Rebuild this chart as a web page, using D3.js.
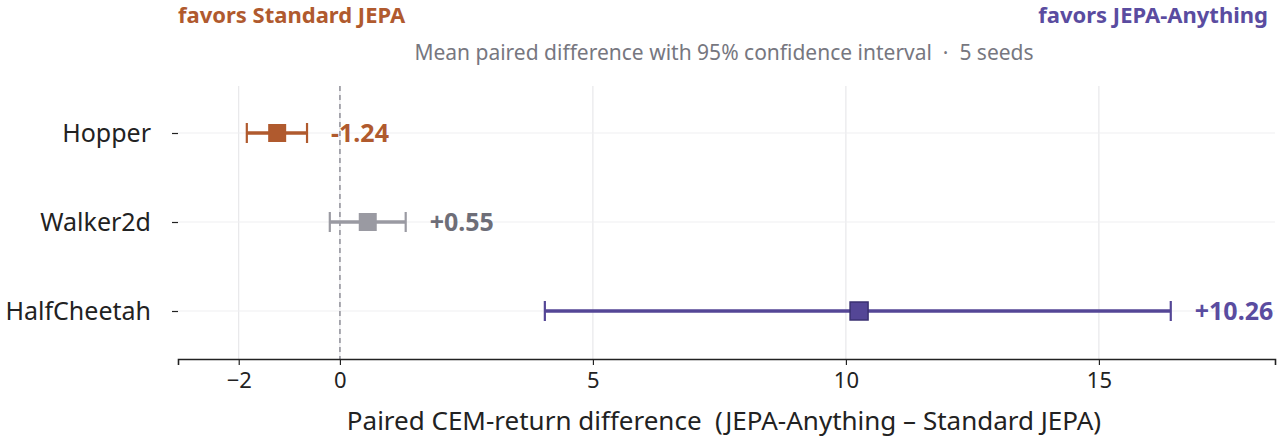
<!DOCTYPE html>
<html>
<head>
<meta charset="utf-8">
<script src="https://cdn.jsdelivr.net/npm/d3@7"></script>
<style>
  body { margin: 0; background: #fff; }
  svg { font-family: "Noto Sans", sans-serif; }
  text { white-space: pre; }
</style>
</head>
<body>
<div id="chart"></div>
<script>
// data
var envs = ["Hopper", "Walker2d", "HalfCheetah"];
var means = [-1.24, 0.55, 10.26];
var ciLow = [-1.84, -0.20, 4.05];
var ciHigh = [-0.65, 1.30, 16.42];
var xTicks = [-2, 0, 5, 10, 15];

var colors = { neg: "#b05a2e", neutral: "#9a9aa2", pos: "#544696" };
var labelColors = { neg: "#b05a2e", neutral: "#6e6e78", pos: "#5a4ca0" };

var width = 1280, height = 440;
var margin = { left: 178, right: 5, top: 86, bottom: 81 };

var svg = d3.select("#chart").append("svg")
	.attr("width", width)
	.attr("height", height);

var x = d3.scaleLinear()
	.domain([-3.2, 18.48])
	.range([margin.left, width - margin.right]);

var y = d3.scalePoint()
	.domain(envs)
	.range([133, 311]);

var plotBottom = height - margin.bottom;

// vertical gridlines
svg.append("g").selectAll("line")
	.data(xTicks)
	.enter().append("line")
	.attr("x1", function(d) { return x(d); })
	.attr("x2", function(d) { return x(d); })
	.attr("y1", margin.top)
	.attr("y2", plotBottom)
	.style("stroke", "#e3e3e6")
	.style("stroke-width", 1);

// horizontal gridlines
svg.append("g").selectAll("line")
	.data(envs)
	.enter().append("line")
	.attr("x1", margin.left)
	.attr("x2", width - margin.right)
	.attr("y1", function(d) { return y(d); })
	.attr("y2", function(d) { return y(d); })
	.style("stroke", "#efeff1")
	.style("stroke-width", 1);

// zero line
svg.append("line")
	.attr("x1", x(0)).attr("x2", x(0))
	.attr("y1", margin.top).attr("y2", plotBottom)
	.style("stroke", "#a0a0a8")
	.style("stroke-width", 1.8)
	.style("stroke-dasharray", "5,4");

// x axis
var xAxis = svg.append("g")
	.attr("transform", "translate(0," + plotBottom + ")")
	.call(d3.axisBottom(x).tickValues(xTicks).tickSize(6).tickPadding(7)
		.tickFormat(function(d) { return d < 0 ? "\u2212" + Math.abs(d) : d; }));
xAxis.select(".domain").style("stroke", "#222").style("stroke-width", 1.6);
xAxis.selectAll(".tick line").style("stroke", "#222").style("stroke-width", 1.2);
xAxis.selectAll(".tick text").style("font-size", "22px").style("fill", "#222")
	.style("font-family", "'Noto Sans', sans-serif");

// y axis
var yAxis = svg.append("g")
	.attr("transform", "translate(" + margin.left + ",0)")
	.call(d3.axisLeft(y).tickSize(6).tickPadding(21));
yAxis.select(".domain").remove();
yAxis.selectAll(".tick line").style("stroke", "#222").style("stroke-width", 1.2);
yAxis.selectAll(".tick text").style("font-size", "25px").style("fill", "#222")
	.style("font-family", "'Noto Sans', sans-serif");

function kind(i) {
	if (ciHigh[i] < 0) return "neg";
	if (ciLow[i] > 0) return "pos";
	return "neutral";
}

var rows = svg.append("g").selectAll(".row")
	.data(envs)
	.enter().append("g")
	.attr("class", "row");

// CI line
rows.append("line")
	.attr("x1", function(d, i) { return x(ciLow[i]); })
	.attr("x2", function(d, i) { return x(ciHigh[i]); })
	.attr("y1", function(d) { return y(d); })
	.attr("y2", function(d) { return y(d); })
	.style("stroke", function(d, i) { return colors[kind(i)]; })
	.style("stroke-width", 3.6);

// caps
[ciLow, ciHigh].forEach(function(arr) {
	rows.append("line")
		.attr("x1", function(d, i) { return x(arr[i]); })
		.attr("x2", function(d, i) { return x(arr[i]); })
		.attr("y1", function(d) { return y(d) - 10; })
		.attr("y2", function(d) { return y(d) + 10; })
		.style("stroke", function(d, i) { return colors[kind(i)]; })
		.style("stroke-width", 2.2);
});

// mean markers
rows.append("rect")
	.attr("x", function(d, i) { return x(means[i]) - 9; })
	.attr("y", function(d) { return y(d) - 9; })
	.attr("width", 18)
	.attr("height", 18)
	.style("fill", function(d, i) { return colors[kind(i)]; })
	.style("stroke", function(d, i) { return kind(i) == "pos" ? "#3a3172" : "none"; })
	.style("stroke-width", 1.5);

// value labels
rows.append("text")
	.attr("x", function(d, i) { return x(ciHigh[i]) + 24; })
	.attr("y", function(d) { return y(d); })
	.attr("dy", "0.35em")
	.style("font-size", "25px")
	.style("font-weight", "bold")
	.style("fill", function(d, i) { return labelColors[kind(i)]; })
	.text(function(d, i) { return (means[i] > 0 ? "+" : "") + means[i].toFixed(2); });

// axis title
svg.append("text")
	.attr("x", 724)
	.attr("y", 430)
	.attr("text-anchor", "middle")
	.style("font-size", "26px")
	.style("fill", "#222")
	.text("Paired CEM-return difference  (JEPA-Anything \u2013 Standard JEPA)");

// header labels
svg.append("text")
	.attr("x", 178)
	.attr("y", 23)
	.style("font-size", "22px")
	.style("font-weight", "bold")
	.style("fill", colors.neg)
	.text("favors Standard JEPA");

svg.append("text")
	.attr("x", 1268)
	.attr("y", 23)
	.attr("text-anchor", "end")
	.style("font-size", "22px")
	.style("font-weight", "bold")
	.style("fill", labelColors.pos)
	.text("favors JEPA-Anything");

svg.append("text")
	.attr("x", 724)
	.attr("y", 60)
	.attr("text-anchor", "middle")
	.style("font-size", "21px")
	.style("fill", "#77777f")
	.text("Mean paired difference with 95% confidence interval  \u00b7  5 seeds");
</script>
</body>
</html>
